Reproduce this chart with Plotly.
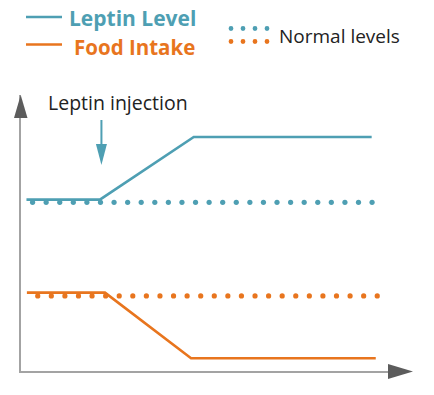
import plotly.graph_objects as go

# ---------------- data (time units, level units) ----------------
leptin_time = [0.55, 5.96, 12.87, 25.97]
leptin_level = [6.21, 6.21, 8.48, 8.48]

food_time = [0.58, 6.33, 12.67, 26.27]
food_level = [2.84, 2.84, 0.46, 0.46]

normal_leptin_time = [1, 2, 3, 4, 5, 6, 7, 8, 9, 10, 11, 12, 13,
                      14, 15, 16, 17, 18, 19, 20, 21, 22, 23, 24, 25, 26]
normal_leptin_level = [6.11] * len(normal_leptin_time)

normal_food_time = [1.38, 2.38, 3.38, 4.38, 5.38, 6.38, 7.38, 8.38, 9.38,
                    10.38, 11.38, 12.38, 13.38, 14.38, 15.38, 16.38, 17.38,
                    18.38, 19.38, 20.38, 21.38, 22.38, 23.38, 24.38, 25.38, 26.38]
normal_food_level = [2.72] * len(normal_food_time)

injection_time = 6.07

series_names = ["Leptin Level", "Food Intake"]
normal_label = "Normal levels"
injection_label = "Leptin injection"

# ---------------- styling ----------------
W, H = 434, 395
TEAL = "#4e9fb3"
ORANGE = "#e8751e"
AXIS = "#a3a3a3"
HEAD = "#5c5c5c"
FONT = "Open Sans"

# pixel scale of plot
X0PX, XSCALE = 19.0, 13.58      # px of t=0, px per time unit
Y0PX, YSCALE = 371.0, 27.6      # px of level 0, px per level unit
DOM_L, DOM_R = 20.5, 398.0
DOM_B, DOM_T = 371.0, 95.0


def px(x):
    return x / W


def py(y):
    return 1 - y / H


fig = go.Figure()

fig.add_trace(go.Scatter(x=leptin_time, y=leptin_level, mode="lines",
                         line=dict(color=TEAL, width=2.6), cliponaxis=False,
                         name=series_names[0]))
fig.add_trace(go.Scatter(x=food_time, y=food_level, mode="lines",
                         line=dict(color=ORANGE, width=2.6), cliponaxis=False,
                         name=series_names[1]))
fig.add_trace(go.Scatter(x=normal_leptin_time, y=normal_leptin_level, mode="markers",
                         marker=dict(color=TEAL, size=5.2), cliponaxis=False,
                         name=normal_label))
fig.add_trace(go.Scatter(x=normal_food_time, y=normal_food_level, mode="markers",
                         marker=dict(color=ORANGE, size=5.2), cliponaxis=False,
                         name=normal_label))

shapes = []
# axis arrowheads
shapes.append(dict(type="path", xref="paper", yref="paper",
                   path=f"M {px(20.7)},{py(95)} L {px(27.5)},{py(118)} L {px(14)},{py(118)} Z",
                   fillcolor=HEAD, line=dict(width=0)))
shapes.append(dict(type="path", xref="paper", yref="paper",
                   path=f"M {px(413)},{py(371.5)} L {px(388)},{py(364)} L {px(388)},{py(379)} Z",
                   fillcolor=HEAD, line=dict(width=0)))

# injection arrow (x in data, y in paper)
hw = 5.5 / XSCALE
shapes.append(dict(type="line", xref="x", yref="paper",
                   x0=injection_time, x1=injection_time, y0=py(120), y1=py(150),
                   line=dict(color=TEAL, width=2)))
shapes.append(dict(type="path", xref="x", yref="paper",
                   path=f"M {injection_time - hw},{py(144)} L {injection_time + hw},{py(144)} "
                        f"L {injection_time},{py(165)} Z",
                   fillcolor=TEAL, line=dict(width=0)))

# legend samples
shapes.append(dict(type="line", xref="paper", yref="paper",
                   x0=px(26), x1=px(62), y0=py(17), y1=py(17),
                   line=dict(color=TEAL, width=2.6)))
shapes.append(dict(type="line", xref="paper", yref="paper",
                   x0=px(26), x1=px(62), y0=py(44.5), y1=py(44.5),
                   line=dict(color=ORANGE, width=2.6)))
for cx in [231, 243, 255, 267]:
    for cy, col in [(28.5, TEAL), (41.5, ORANGE)]:
        r = 2.4
        shapes.append(dict(type="circle", xref="paper", yref="paper",
                           x0=px(cx - r), x1=px(cx + r), y0=py(cy + r), y1=py(cy - r),
                           fillcolor=col, line=dict(width=0)))

annotations = [
    dict(text=f"<b>{series_names[0]}</b>", xref="paper", yref="paper",
         x=px(67), y=py(18), xanchor="left", yanchor="middle", showarrow=False,
         font=dict(family=FONT, size=21, color=TEAL)),
    dict(text=f"<b>{series_names[1]}</b>", xref="paper", yref="paper",
         x=px(72), y=py(47), xanchor="left", yanchor="middle", showarrow=False,
         font=dict(family=FONT, size=20.5, color=ORANGE)),
    dict(text=normal_label, xref="paper", yref="paper",
         x=px(277), y=py(36), xanchor="left", yanchor="middle", showarrow=False,
         font=dict(family=FONT, size=19, color="#222222")),
    dict(text=injection_label, xref="paper", yref="paper",
         x=px(117.5), y=py(102), xanchor="center", yanchor="middle", showarrow=False,
         font=dict(family=FONT, size=19.5, color="#222222")),
]

fig.update_layout(
    width=W, height=H,
    margin=dict(l=0, r=0, t=0, b=0),
    paper_bgcolor="white", plot_bgcolor="white",
    showlegend=False,
    shapes=shapes, annotations=annotations,
    xaxis=dict(domain=[px(DOM_L), px(DOM_R)],
               range=[(DOM_L - X0PX) / XSCALE, (DOM_R - X0PX) / XSCALE],
               showgrid=False, zeroline=False, showticklabels=False, ticks="",
               showline=True, linecolor=AXIS, linewidth=1.6, fixedrange=True),
    yaxis=dict(domain=[py(DOM_B), py(DOM_T)],
               range=[(Y0PX - DOM_B) / YSCALE, (Y0PX - DOM_T) / YSCALE],
               showgrid=False, zeroline=False, showticklabels=False, ticks="",
               showline=True, linecolor=AXIS, linewidth=1.6, fixedrange=True),
)

fig.write_html("out.html", config={"displayModeBar": False},
               post_script="document.body.style.margin='0';document.body.style.overflow='hidden';")
